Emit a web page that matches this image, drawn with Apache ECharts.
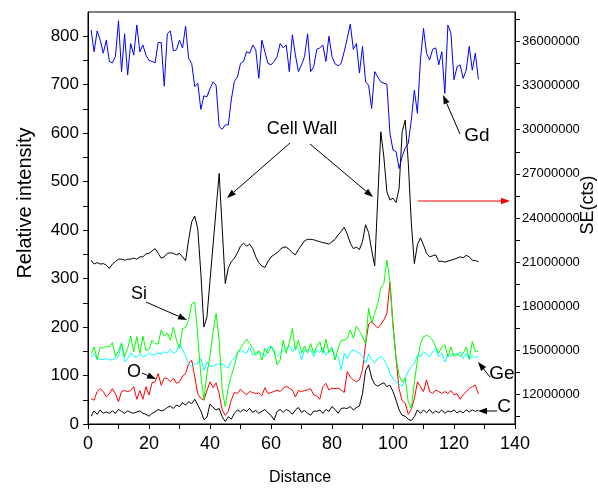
<!DOCTYPE html>
<html><head><meta charset="utf-8">
<script src="https://cdn.jsdelivr.net/npm/echarts@6/dist/echarts.min.js"></script>
<style>html,body{margin:0;padding:0;background:#fff}#c{width:598px;height:488px}</style>
</head><body><div id="c"></div>
<script>
const distance = [1,2,3,4,5,6,7,8,9,10,11,12,13,14,15,16,17,18,19,20,21,22,23,24,25,26,27,28,29,30,31,32,33,34,35,36,37,38,39,40,41,42,43,44,45,46,47,48,49,50,51,52,53,54,55,56,57,58,59,60,61,62,63,64,65,66,67,68,69,70,71,72,73,74,75,76,77,78,79,80,81,82,83,84,85,86,87,88,89,90,91,92,93,94,95,96,97,98,99,100,101,102,103,104,105,106,107,108,109,110,111,112,113,114,115,116,117,118,119,120,121,122,123,124,125,126,127,128];
const gd = [813,768,811,792,765,792,748,745,758,832,727,805,720,785,761,823,768,782,761,750,748,745,787,787,697,805,811,770,772,792,776,821,754,744,696,703,649,677,675,692,706,699,614,608,617,617,670,707,716,744,748,768,765,782,772,713,792,768,744,741,748,758,785,776,782,727,803,761,727,741,758,805,727,737,773,776,782,748,800,758,743,739,744,768,796,825,773,785,724,779,706,699,651,727,716,706,703,701,600,565,562,527,552,569,579,627,689,641,751,816,765,751,773,776,741,768,682,823,806,710,737,741,713,730,779,730,765,711];
const se = [21130000,20870000,20970000,20870000,20900000,20800000,20570000,20870000,21040000,21200000,21200000,21130000,21200000,21200000,21270000,21200000,21360000,21360000,21560000,21600000,21760000,21920000,21600000,21270000,21360000,21600000,21630000,21600000,21500000,21600000,21360000,21100000,22520000,23740000,24130000,23240000,20240000,16590000,17280000,19750000,22160000,24590000,27030000,23310000,19550000,20610000,21040000,21270000,21630000,22090000,22290000,22090000,22220000,21920000,21360000,20970000,20740000,20640000,21040000,21360000,21500000,21630000,21860000,22020000,22020000,21860000,21630000,21500000,21860000,22160000,22450000,22550000,22550000,22520000,22450000,22390000,22320000,22290000,22220000,22390000,22550000,22850000,23080000,23370000,22910000,22290000,21920000,22020000,21860000,22390000,23540000,23010000,21830000,20740000,25320000,29860000,28150000,25780000,25220000,25350000,25050000,26010000,29860000,30650000,27790000,23670000,20900000,22190000,22650000,22160000,21600000,21360000,21430000,21500000,21040000,21070000,21000000,21070000,21130000,21200000,21270000,21360000,21300000,21460000,21360000,21130000,21100000,21040000];
const si = [145,159,133,159,156,161,159,168,139,152,166,139,156,181,149,180,146,181,152,154,173,166,165,194,181,188,173,200,173,156,197,199,215,248,252,180,100,51,104,140,190,228,173,70,36,75,100,120,146,156,166,175,166,156,142,151,132,156,146,160,153,122,132,173,146,168,197,153,173,146,161,147,166,146,160,170,146,175,147,156,132,156,173,173,177,194,177,202,191,180,165,239,208,228,249,280,290,338,295,200,135,100,87,95,45,32,85,132,166,180,183,180,173,159,146,159,163,139,159,139,146,139,146,159,135,170,149,151];
const ge = [139,144,135,133,133,135,132,133,135,139,168,128,135,147,139,139,144,139,141,147,142,144,147,144,149,146,154,146,149,165,154,139,124,118,123,126,135,111,128,118,120,122,125,122,120,115,130,136,146,152,149,146,159,142,146,150,145,139,156,161,146,140,146,151,156,161,149,160,154,132,153,151,154,139,153,147,158,142,151,159,139,139,112,146,135,149,153,149,146,139,125,144,132,126,135,139,133,122,104,94,87,82,78,94,108,118,125,142,139,149,144,139,149,156,139,146,128,144,139,146,142,149,135,146,133,142,137,140];
const oxygen = [53,49,67,73,67,56,62,73,62,46,67,69,67,69,77,51,69,51,77,60,85,87,104,80,95,94,87,94,84,87,99,104,125,132,97,62,53,49,69,87,75,85,63,29,18,26,50,65,63,72,65,60,67,65,63,64,58,75,63,65,67,70,67,74,78,74,70,56,69,67,69,70,73,60,58,51,77,84,70,74,73,74,70,65,108,97,91,87,91,112,165,206,212,204,198,205,215,228,292,205,135,72,48,43,20,30,52,87,77,67,91,67,63,70,67,63,67,63,69,60,63,51,60,67,73,77,80,62];
const carbon = [16,27,20,29,22,25,22,27,22,30,26,22,27,24,22,25,27,22,20,16,22,25,30,27,29,34,37,32,39,36,44,39,46,42,51,39,27,9,14,41,34,29,32,15,5,15,10,22,29,25,30,26,32,24,28,22,26,30,23,18,8,26,30,24,30,27,20,29,34,24,28,22,18,27,26,29,22,30,26,36,30,22,32,33,32,36,29,34,37,63,110,122,95,82,78,82,85,77,80,67,49,29,18,16,10,7,15,29,22,29,23,30,22,27,23,29,22,27,25,29,23,27,23,29,25,29,26,29];
const leftLabels = [0,100,200,300,400,500,600,700,800];
const leftTicks = [0,50,100,150,200,250,300,350,400,450,500,550,600,650,700,750,800];
const rightLabels = [12000000,15000000,18000000,21000000,24000000,27000000,30000000,33000000,36000000];
const rightTicks = [10500000,12000000,13500000,15000000,16500000,18000000,19500000,21000000,22500000,24000000,25500000,27000000,28500000,30000000,31500000,33000000,34500000,36000000,37500000];

const FONT = "'Liberation Sans', Arial, sans-serif";
const pairs = arr => distance.map((d, i) => [d, arr[i]]);
function line(name, arr, color, axis) {
  return { name, type: 'line', yAxisIndex: axis, data: pairs(arr), showSymbol: false,
    lineStyle: { color, width: 1 }, itemStyle: { color }, animation: false, z: 3 };
}
function arrow(x1, y1, x2, y2, color) {
  const dx = x2 - x1, dy = y2 - y1, L = Math.sqrt(dx*dx + dy*dy);
  const ux = dx / L, uy = dy / L, hl = 9, hw = 3.2;
  const bx = x2 - ux*hl, by = y2 - uy*hl;
  return [
    { type: 'line', shape: { x1, y1, x2: bx, y2: by }, style: { stroke: color, lineWidth: 1 }, z: 10 },
    { type: 'polygon', shape: { points: [[x2, y2], [bx - uy*hw, by + ux*hw], [bx + uy*hw, by - ux*hw]] }, style: { fill: color }, z: 10 }
  ];
}
function txt(text, x, y, size, rot) {
  return { type: 'text', x, y, rotation: rot || 0, z: 10,
    style: { text, font: size + 'px ' + FONT, fill: '#000', align: 'center', verticalAlign: 'middle' } };
}

const chart = echarts.init(document.getElementById('c'));
chart.setOption({
  backgroundColor: '#fff',
  animation: false,
  grid: { left: 88, right: 83, top: 12, bottom: 64, show: true, borderColor: '#000', borderWidth: 1 },
  xAxis: { type: 'value', min: 0, max: 140, interval: 20,
    axisLine: { lineStyle: { color: '#000', width: 1 } },
    axisTick: { inside: false, length: 5, lineStyle: { color: '#000' } },
    minorTick: { show: true, splitNumber: 2, length: 5, lineStyle: { color: '#000' } },
    splitLine: { show: false },
    axisLabel: { color: '#000', fontSize: 18, fontFamily: FONT, margin: 11 } },
  yAxis: [
    { type: 'value', min: 0, max: 850, position: 'left',
      axisLine: { show: true, lineStyle: { color: '#000' } },
      axisTick: { show: true, length: 5, customValues: leftTicks, lineStyle: { color: '#000' } },
      axisLabel: { color: '#000', fontSize: 17, fontFamily: FONT, margin: 9, customValues: leftLabels },
      splitLine: { show: false } },
    { type: 'value', min: 10000000, max: 38000000, position: 'right',
      axisLine: { show: true, lineStyle: { color: '#000' } },
      axisTick: { show: true, length: 5, customValues: rightTicks, lineStyle: { color: '#000' } },
      axisLabel: { color: '#000', fontSize: 13, fontFamily: FONT, margin: 7, customValues: rightLabels,
        formatter: v => String(v) },
      splitLine: { show: false } }
  ],
  series: [
    line('C', carbon, '#000000', 0),
    line('O', oxygen, '#ff0000', 0),
    line('Ge', ge, '#00ffff', 0),
    line('Si', si, '#00ff00', 0),
    line('SE', se, '#000000', 1),
    line('Gd', gd, '#0000ff', 0)
  ],
  graphic: [
    txt('Relative intensity', 25, 203, 20, Math.PI / 2),
    txt('Distance', 300, 478, 16),
    txt('SE(cts)', 588, 205, 18, Math.PI / 2),
    txt('Cell Wall', 302, 129, 18),
    txt('Gd', 477, 136, 19),
    txt('Si', 139, 294, 18),
    txt('O', 134, 372, 18),
    txt('Ge', 502, 374, 19),
    txt('C', 504, 407, 19),
    ...arrow(290, 143, 227, 198, '#000'),
    ...arrow(310, 144, 373, 197, '#000'),
    ...arrow(460, 134, 443, 95, '#000'),
    ...arrow(146, 302, 187, 320, '#000'),
    ...arrow(142, 373, 156, 379, '#000'),
    ...arrow(490, 377, 478, 362, '#000'),
    ...arrow(497, 411, 478, 411, '#000'),
    ...arrow(418, 201, 510, 201, '#ff0000')
  ]
});
</script></body></html>
